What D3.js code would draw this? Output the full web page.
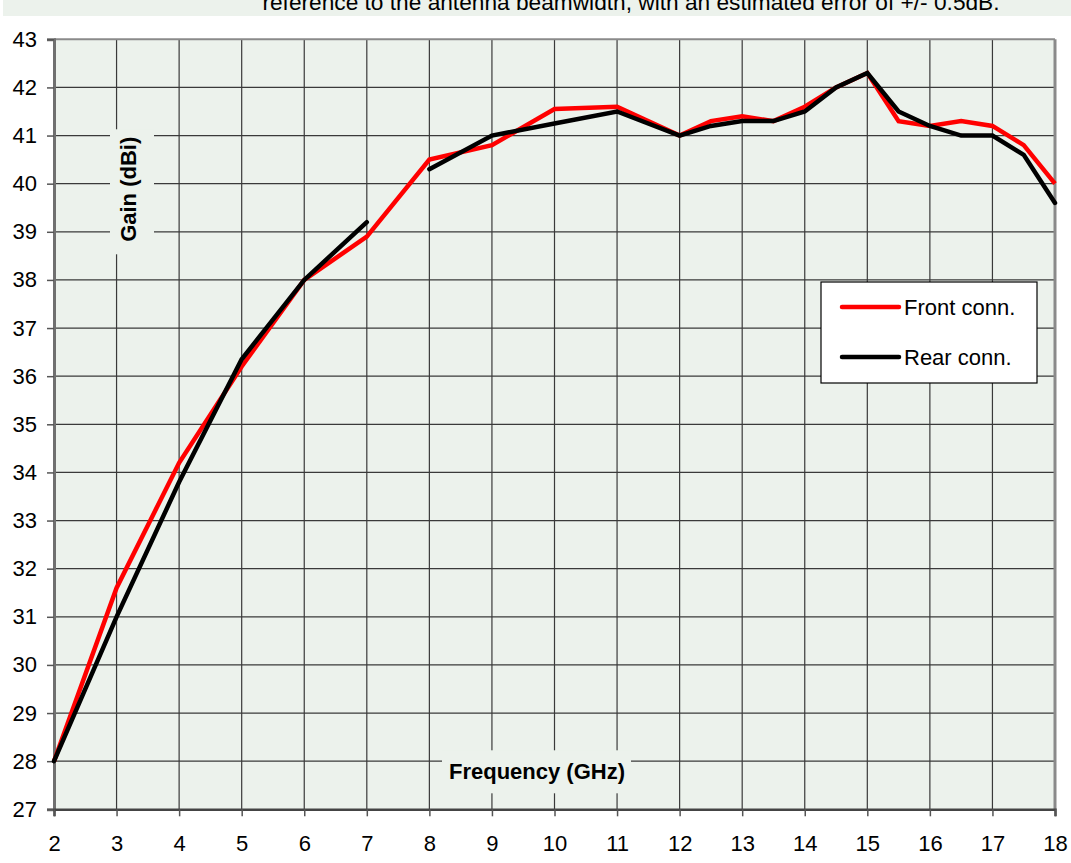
<!DOCTYPE html>
<meta charset="utf-8">
<html>
<style>
  body { margin: 0; background: #fff; }
  svg { display: block; font-family: "Liberation Sans", Arial, sans-serif; }
  .grid line { stroke: #3a3a3a; stroke-width: 1.2px; }
  .tick text { font-size: 22px; fill: #000; }
  .line { fill: none; stroke-width: 4.5px; stroke-linejoin: miter; }
</style>
<body>
<svg width="1071" height="863"></svg>
<script src="https://d3js.org/d3.v7.min.js"></script>
<script>
// frequency points (GHz)
var freqs = [2, 3, 4, 5, 6, 7, 8, 9, 10, 11, 12, 12.5, 13, 13.5, 14, 14.5, 15, 15.5, 16, 16.5, 17, 17.5, 18];
// gain (dBi)
var frontConn = [28.0, 31.6, 34.2, 36.2, 38.0, 38.9, 40.5, 40.8, 41.55, 41.6, 41.0, 41.3, 41.4, 41.3, 41.6, 42.0, 42.3, 41.3, 41.2, 41.3, 41.2, 40.8, 40.0];
var rearConn  = [28.0, 31.0, 33.8, 36.35, 38.0, 39.2, 40.3, 41.0, 41.25, 41.5, 41.0, 41.2, 41.3, 41.3, 41.5, 42.0, 42.3, 41.5, 41.2, 41.0, 41.0, 40.6, 39.6];
// the rear curve is broken between 7 and 8 GHz
var rearBreakAfter = 7;

var xTicks = d3.range(2, 19, 1);
var yTicks = d3.range(27, 44, 1);
var seriesNames = ["Front conn.", "Rear conn."];
var seriesColors = ["#ff0000", "#000000"];

var svg = d3.select("svg"),
    margin = {top: 39.3, left: 54, right: 16, bottom: 54},
    width = 1001,
    height = 770;

// top banner (caption text cut off by the page edge, as in the source)
svg.append("rect").attr("x", 3).attr("y", 0).attr("width", 1068).attr("height", 16).attr("fill", "#ecf2ec");
svg.append("text").attr("x", 631).attr("y", 10).attr("text-anchor", "middle")
  .style("font-size", "22.7px").attr("fill", "#000")
  .text("reference to the antenna beamwidth, with an estimated error of +/- 0.5dB.");

var g = svg.append("g").attr("transform", "translate(" + margin.left + "," + margin.top + ")");

var x = d3.scaleLinear().domain([2, 18]).range([0, width]);
var y = d3.scaleLinear().domain([27, 43]).range([height, 0]);

// plot background
g.append("rect").attr("width", width).attr("height", height).attr("fill", "#ecf2ec");

// grid
g.append("g").attr("class", "grid")
  .selectAll("line").data(yTicks.slice(1, -1)).enter().append("line")
  .attr("x1", 0).attr("x2", width).attr("y1", function(d) { return y(d); }).attr("y2", function(d) { return y(d); });
g.append("g").attr("class", "grid")
  .selectAll("line").data(xTicks.slice(1, -1)).enter().append("line")
  .attr("y1", 0).attr("y2", height).attr("x1", function(d) { return x(d); }).attr("x2", function(d) { return x(d); });

// frame
g.append("line").attr("x1", 0).attr("x2", width).attr("y1", 0).attr("y2", 0).attr("stroke", "#8a8a8a").attr("stroke-width", 2);
g.append("line").attr("x1", width).attr("x2", width).attr("y1", 0).attr("y2", height).attr("stroke", "#8a8a8a").attr("stroke-width", 3);

// axis title boxes (cover the grid)
g.append("rect").attr("x", 56).attr("y", 90).attr("width", 44).attr("height", 125).attr("fill", "#ecf2ec");
g.append("text").attr("transform", "translate(" + 82 + "," + 150 + ") rotate(-90)")
  .attr("text-anchor", "middle").style("font-size", "22px").style("font-weight", "bold").text("Gain (dBi)");

g.append("rect").attr("x", 388).attr("y", 711).attr("width", 189).attr("height", 43).attr("fill", "#ecf2ec");
g.append("text").attr("x", 483).attr("y", 740)
  .attr("text-anchor", "middle").style("font-size", "22px").style("font-weight", "bold").text("Frequency (GHz)");

// axes
var yAxis = g.append("g").call(d3.axisLeft(y).tickValues(yTicks).tickFormat(d3.format("d")).tickSize(7).tickPadding(10));
yAxis.select(".domain").attr("stroke", "#707070").attr("stroke-width", 3);
yAxis.selectAll(".tick line").attr("stroke", "#555").attr("stroke-width", 1.5);

var xAxis = g.append("g").attr("transform", "translate(0," + height + ")")
  .call(d3.axisBottom(x).tickValues(xTicks).tickFormat(d3.format("d")).tickSize(7).tickPadding(19));
xAxis.select(".domain").attr("stroke", "#444").attr("stroke-width", 2.5);
xAxis.selectAll(".tick line").attr("stroke", "#555").attr("stroke-width", 1.5);

// lines
var line = d3.line()
  .defined(function(d) { return d.v != null; })
  .x(function(d) { return x(d.f); })
  .y(function(d) { return y(d.v); });

var frontData = freqs.map(function(f, i) { return {f: f, v: frontConn[i]}; });
var rearData = [];
freqs.forEach(function(f, i) {
  rearData.push({f: f, v: rearConn[i]});
  if (f === rearBreakAfter) rearData.push({f: f, v: null});
});

g.append("path").datum(frontData).attr("class", "line").attr("stroke", seriesColors[0]).attr("stroke-width", 4.2).attr("d", line);
g.append("path").datum(rearData).attr("class", "line").attr("stroke", seriesColors[1]).attr("stroke-linecap", "round").attr("d", line);

// legend
var lg = svg.append("g").attr("transform", "translate(821,282)");
lg.append("rect").attr("width", 216).attr("height", 101).attr("fill", "#fff").attr("stroke", "#000").attr("stroke-width", 1.2);
seriesNames.forEach(function(name, i) {
  var yy = 25 + i * 50;
  lg.append("line").attr("x1", 21).attr("x2", 78).attr("y1", yy).attr("y2", yy)
    .attr("stroke", seriesColors[i]).attr("stroke-width", 4.5).attr("stroke-linecap", "round");
  lg.append("text").attr("x", 83).attr("y", yy + 8).style("font-size", "22px").text(name);
});
</script>
</body>
</html>
